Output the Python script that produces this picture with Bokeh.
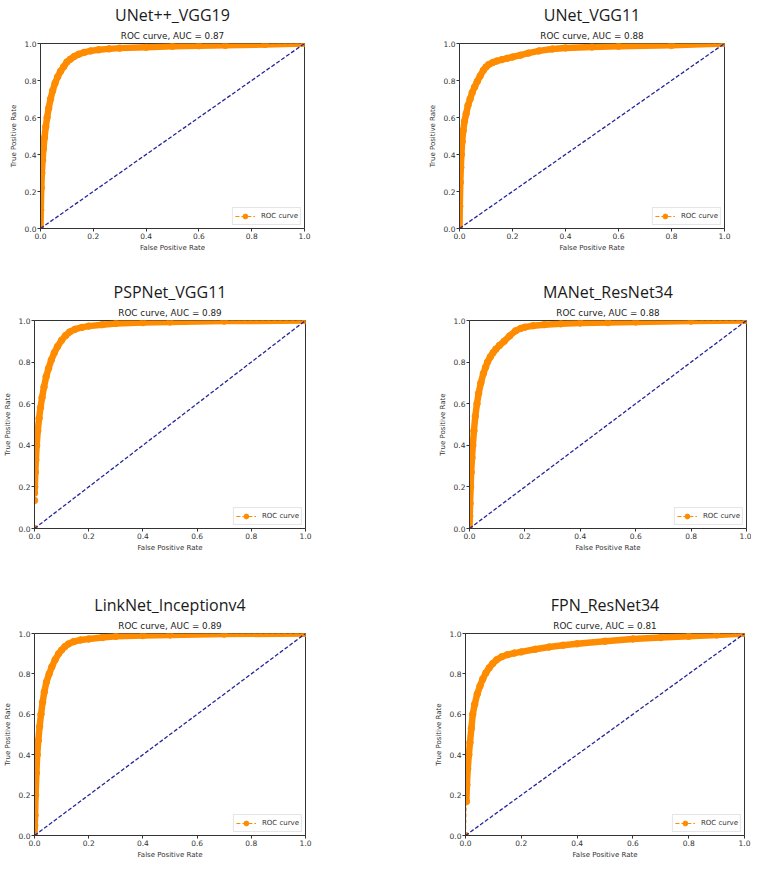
from bokeh.plotting import figure
from bokeh.layouts import column, row
from bokeh.models import (Title, FixedTicker, PrintfTickFormatter, Legend,
                          LegendItem, Range1d)
from bokeh.embed import file_html
from bokeh.resources import INLINE

# ---------------- data ----------------
model_names = ["UNet++_VGG19", "UNet_VGG11", "PSPNet_VGG11",
               "MANet_ResNet34", "LinkNet_Inceptionv4", "FPN_ResNet34"]
auc_values = [0.87, 0.88, 0.89, 0.88, 0.89, 0.81]

unetpp_fpr = [0, 0.001, 0.003, 0.005, 0.008, 0.011, 0.015, 0.02, 0.025, 0.031, 0.038, 0.046, 0.055, 0.065, 0.076, 0.088, 0.1, 0.113, 0.128, 0.145, 0.165, 0.19, 0.22, 0.26, 0.3, 0.4, 0.5, 0.6, 0.7, 0.85, 1.0]
unetpp_tpr = [0, 0.1, 0.22, 0.3, 0.37, 0.43, 0.49, 0.55, 0.6, 0.65, 0.7, 0.745, 0.785, 0.82, 0.85, 0.875, 0.9, 0.915, 0.93, 0.942, 0.952, 0.96, 0.966, 0.971, 0.975, 0.98, 0.985, 0.988, 0.99, 0.995, 1.0]

unet_fpr = [0, 0.001, 0.003, 0.005, 0.007, 0.01, 0.014, 0.019, 0.025, 0.032, 0.04, 0.048, 0.057, 0.067, 0.078, 0.09, 0.1, 0.11, 0.125, 0.14, 0.16, 0.18, 0.2, 0.23, 0.26, 0.3, 0.35, 0.4, 0.5, 0.6, 0.8, 1.0]
unet_tpr = [0, 0.12, 0.25, 0.33, 0.4, 0.47, 0.53, 0.58, 0.62, 0.665, 0.7, 0.735, 0.765, 0.795, 0.825, 0.855, 0.873, 0.886, 0.897, 0.905, 0.913, 0.92, 0.927, 0.937, 0.948, 0.96, 0.97, 0.976, 0.981, 0.985, 0.99, 1.0]

pspnet_fpr = [0, 0, 0, 0.001, 0.003, 0.005, 0.008, 0.012, 0.017, 0.022, 0.028, 0.035, 0.043, 0.052, 0.062, 0.073, 0.085, 0.1, 0.115, 0.13, 0.15, 0.175, 0.2, 0.25, 0.3, 0.4, 0.5, 0.7, 1.0]
pspnet_tpr = [0, 0.135, 0.17, 0.2, 0.27, 0.33, 0.4, 0.47, 0.53, 0.58, 0.63, 0.68, 0.73, 0.77, 0.81, 0.845, 0.875, 0.905, 0.928, 0.945, 0.958, 0.967, 0.973, 0.98, 0.986, 0.99, 0.993, 0.997, 1.0]

manet_fpr = [0, 0.001, 0.002, 0.004, 0.006, 0.009, 0.012, 0.016, 0.021, 0.027, 0.033, 0.041, 0.05, 0.058, 0.065, 0.075, 0.085, 0.095, 0.108, 0.125, 0.145, 0.166, 0.185, 0.2, 0.23, 0.27, 0.33, 0.4, 0.5, 0.6, 0.8, 1.0]
manet_tpr = [0, 0.06, 0.12, 0.2, 0.27, 0.34, 0.4, 0.47, 0.54, 0.6, 0.65, 0.7, 0.745, 0.775, 0.8, 0.825, 0.845, 0.862, 0.88, 0.9, 0.926, 0.95, 0.962, 0.968, 0.975, 0.98, 0.984, 0.988, 0.99, 0.993, 0.997, 1.0]

linknet_fpr = [0, 0.001, 0.002, 0.004, 0.007, 0.01, 0.014, 0.019, 0.024, 0.03, 0.036, 0.044, 0.054, 0.064, 0.076, 0.089, 0.1, 0.112, 0.125, 0.145, 0.17, 0.2, 0.25, 0.3, 0.4, 0.5, 0.7, 1.0]
linknet_tpr = [0, 0.05, 0.1, 0.2, 0.31, 0.4, 0.47, 0.54, 0.6, 0.66, 0.71, 0.76, 0.8, 0.835, 0.87, 0.9, 0.918, 0.935, 0.948, 0.96, 0.968, 0.973, 0.98, 0.986, 0.99, 0.993, 0.997, 1.0]

fpn_fpr = [0, 0.003, 0.005, 0.008, 0.012, 0.016, 0.021, 0.026, 0.033, 0.042, 0.052, 0.062, 0.073, 0.085, 0.098, 0.112, 0.13, 0.15, 0.175, 0.2, 0.25, 0.3, 0.35, 0.4, 0.5, 0.6, 0.7, 0.8, 0.9, 1.0]
fpn_tpr = [0, 0.168, 0.25, 0.33, 0.4, 0.46, 0.53, 0.6, 0.65, 0.7, 0.74, 0.775, 0.805, 0.83, 0.852, 0.87, 0.885, 0.895, 0.903, 0.909, 0.922, 0.933, 0.942, 0.949, 0.962, 0.973, 0.98, 0.986, 0.993, 1.0]

diag_x = [0.0, 1.0]
diag_y = [0.0, 1.0]
tick_values = [0.0, 0.2, 0.4, 0.6, 0.8, 1.0]

curves = [(unetpp_fpr, unetpp_tpr), (unet_fpr, unet_tpr), (pspnet_fpr, pspnet_tpr),
          (manet_fpr, manet_tpr), (linknet_fpr, linknet_tpr), (fpn_fpr, fpn_tpr)]

# ---------------- layout / style ----------------
# (width, height, left, right, top, bottom, band_start)
geometry = [
    (375, 264, 40, 71, 36, 36, 0),
    (376, 264, 84, 27, 36, 36, 0),
    (375, 323, 30, 70, 56, 59, 2),
    (376, 323, 94, 5, 56, 59, 0),
    (375, 274, 30, 70, 46, 24, 0),
    (376, 274, 90, 7, 46, 24, 1),
]

ORANGE = "darkorange"
AX = "#333333"


def make_panel(i):
    w, h, l, r, t, b, band_start = geometry[i]
    fpr, tpr = curves[i]
    p = figure(width=w, height=h, min_border_left=l, min_border_right=r,
               min_border_top=t, min_border_bottom=b,
               x_range=Range1d(0, 1), y_range=Range1d(0, 1),
               output_backend="svg", toolbar_location=None,
               title=model_names[i])
    p.title.align = "center"
    p.title.text_font = "Open Sans"
    p.title.text_font_size = "16px"
    p.title.text_font_style = "normal"
    p.title.text_color = "#1a1a1a"
    p.title.standoff = 2
    sub = Title(text="ROC curve, AUC = %.2f" % auc_values[i], align="center",
                text_font="DejaVu Sans", text_font_size="8.8px",
                text_font_style="normal", text_color="#222222", standoff=5)
    p.add_layout(sub, "above")

    p.grid.visible = False
    p.background_fill_color = "white"
    p.border_fill_color = "white"
    p.outline_line_color = AX
    p.outline_line_width = 1
    p.outline_line_alpha = 1

    for ax in (p.xaxis[0], p.yaxis[0]):
        ax.ticker = FixedTicker(ticks=tick_values)
        ax.formatter = PrintfTickFormatter(format="%.1f")
        ax.major_label_text_font = "DejaVu Sans"
        ax.major_label_text_font_size = "7.5px"
        ax.major_label_text_color = AX
        ax.major_label_standoff = 1
        ax.major_tick_in = 0
        ax.major_tick_out = 3
        ax.major_tick_line_color = AX
        ax.minor_tick_line_color = None
        ax.axis_line_color = AX
        ax.axis_label_text_font = "DejaVu Sans"
        ax.axis_label_text_font_size = "7px"
        ax.axis_label_text_font_style = "normal"
        ax.axis_label_text_color = AX
    p.xaxis.axis_label = "False Positive Rate"
    p.yaxis.axis_label = "True Positive Rate"
    p.xaxis.axis_label_standoff = 2
    p.yaxis.axis_label_standoff = 4

    dash_r = p.line(fpr, tpr, line_color=ORANGE, line_width=1, line_dash="4 2")
    p.line(fpr[band_start:], tpr[band_start:], line_color=ORANGE, line_width=6.5,
           line_join="round", line_cap="round")
    dot_r = p.scatter(fpr, tpr, size=6.5, fill_color=ORANGE, line_color=ORANGE)
    p.line(diag_x, diag_y, line_color="#25259a", line_width=1.3, line_dash="4 2")

    legend = Legend(items=[LegendItem(label="ROC curve", renderers=[dash_r, dot_r])],
                    location="bottom_right", label_text_font="DejaVu Sans",
                    label_text_font_size="7px", label_text_color=AX,
                    glyph_width=20, glyph_height=12, label_height=10,
                    label_standoff=6, padding=2, margin=3, spacing=0,
                    border_line_color="#cccccc", border_line_width=1,
                    background_fill_alpha=0.9)
    p.add_layout(legend)
    return p


panels = [make_panel(i) for i in range(6)]
layout = column(row(panels[0], panels[1]), row(panels[2], panels[3]),
                row(panels[4], panels[5]))

open("out.html", "w").write(file_html(layout, INLINE))
